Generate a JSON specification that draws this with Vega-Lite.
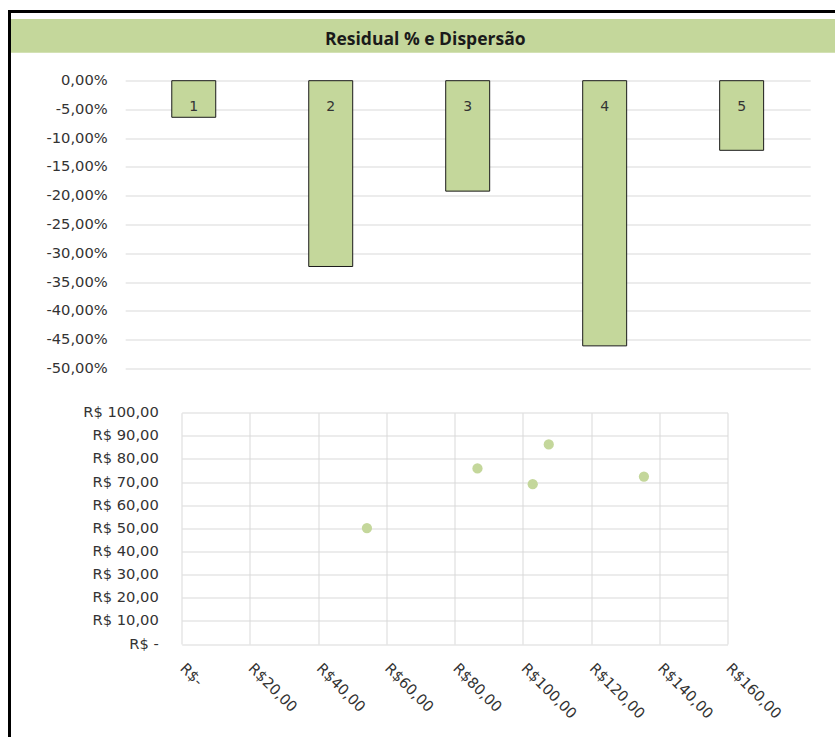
{
  "$schema": "https://vega.github.io/schema/vega-lite/v6.json",
  "width": 830,
  "height": 740,
  "autosize": "none",
  "padding": {"left": 9.5, "top": 11.5, "right": -4.5, "bottom": -14.5},
  "background": "white",
  "config": {
    "locale": {"number": {"decimal": ",", "thousands": ".", "grouping": [3], "currency": ["R$ ", ""], "minus": "-"}},
    "view": {"stroke": "black", "strokeWidth": 3},
    "axis": {"labelFont": "DejaVu Sans", "labelFontSize": 14.7, "labelColor": "#333333", "gridColor": "#D9D9D9", "gridWidth": 1, "ticks": false, "domain": false, "title": null, "labelFlush": false, "labelOverlap": false}
  },
  "datasets": {
    "titulo": [{"x0": 0, "x1": 1, "y0": 0, "y1": 1, "xm": 0.5, "ym": 0.5, "label": "Residual % e Dispersão"}],
    "residual": [
      {"item": "1", "residual": -0.0636},
      {"item": "2", "residual": -0.323},
      {"item": "3", "residual": -0.192},
      {"item": "4", "residual": -0.461},
      {"item": "5", "residual": -0.121}
    ],
    "dispersao": [
      {"preco": 54.3, "valor": 50.1},
      {"preco": 86.7, "valor": 75.9},
      {"preco": 102.9, "valor": 69.1},
      {"preco": 107.6, "valor": 86.3},
      {"preco": 135.5, "valor": 72.4}
    ]
  },
  "resolve": {"scale": {"x": "independent", "y": "independent"}, "axis": {"x": "independent", "y": "independent"}},
  "layer": [
    {
      "data": {"name": "titulo"},
      "layer": [
        {
          "mark": {"type": "rect", "fill": "#C4D79B"},
          "encoding": {
            "x": {"field": "x0", "type": "quantitative", "scale": {"domain": [0, 1], "range": [1.5, 830], "nice": false, "zero": false}, "axis": null},
            "x2": {"field": "x1"},
            "y": {"field": "y0", "type": "quantitative", "scale": {"domain": [0, 1], "range": [7.5, 41.2], "nice": false, "zero": false}, "axis": null},
            "y2": {"field": "y1"}
          }
        },
        {
          "mark": {"type": "text", "font": "Open Sans", "fontWeight": "bold", "fontSize": 17.5, "color": "#1a1a1a", "baseline": "alphabetic", "align": "center", "dy": 9},
          "encoding": {
            "x": {"field": "xm", "type": "quantitative"},
            "y": {"field": "ym", "type": "quantitative"},
            "text": {"field": "label"}
          }
        }
      ]
    },
    {
      "data": {"name": "residual"},
      "layer": [
        {
          "mark": {"type": "bar", "fill": "#C4D79B", "stroke": "#1a1a1a", "strokeWidth": 1},
          "encoding": {
            "x": {"field": "item", "type": "nominal", "scale": {"range": [115.7, 800.7], "paddingInner": 0.679, "paddingOuter": 0.34}, "axis": null},
            "y": {
              "field": "residual", "type": "quantitative",
              "scale": {"domain": [-0.5, 0], "range": [356.8, 69.2], "nice": false, "zero": false},
              "axis": {"orient": "left", "offset": -115.7, "values": [0, -0.05, -0.1, -0.15, -0.2, -0.25, -0.3, -0.35, -0.4, -0.45, -0.5], "format": ".2%", "labelPadding": 18, "grid": true}
            }
          }
        },
        {
          "mark": {"type": "text", "font": "DejaVu Sans", "fontSize": 14, "color": "#333333", "baseline": "alphabetic", "align": "center", "dy": 30},
          "encoding": {
            "x": {"field": "item", "type": "nominal"},
            "y": {"datum": 0},
            "text": {"field": "item"}
          }
        }
      ]
    },
    {
      "data": {"name": "dispersao"},
      "mark": {"type": "circle", "color": "#C4D79B", "opacity": 1, "size": 105},
      "encoding": {
        "x": {
          "field": "preco", "type": "quantitative",
          "scale": {"domain": [0, 160], "range": [172.2, 718], "nice": false, "zero": false},
          "axis": {"orient": "top", "offset": -632.5, "values": [0, 20, 40, 60, 80, 100, 120, 140, 160], "labelExpr": "datum.value == 0 ? 'R$-' : 'R$' + format(datum.value, '.2f')", "labelAngle": 45, "labelAlign": "left", "labelBaseline": "middle", "labelPadding": -22, "grid": true}
        },
        "y": {
          "field": "valor", "type": "quantitative",
          "scale": {"domain": [0, 100], "range": [632.5, 401.2], "nice": false, "zero": false},
          "axis": {"orient": "left", "offset": -172.2, "values": [0, 10, 20, 30, 40, 50, 60, 70, 80, 90, 100], "labelExpr": "datum.value == 0 ? 'R$ -' : 'R$ ' + format(datum.value, '.2f')", "labelPadding": 23.4, "grid": true}
        }
      }
    }
  ]
}
